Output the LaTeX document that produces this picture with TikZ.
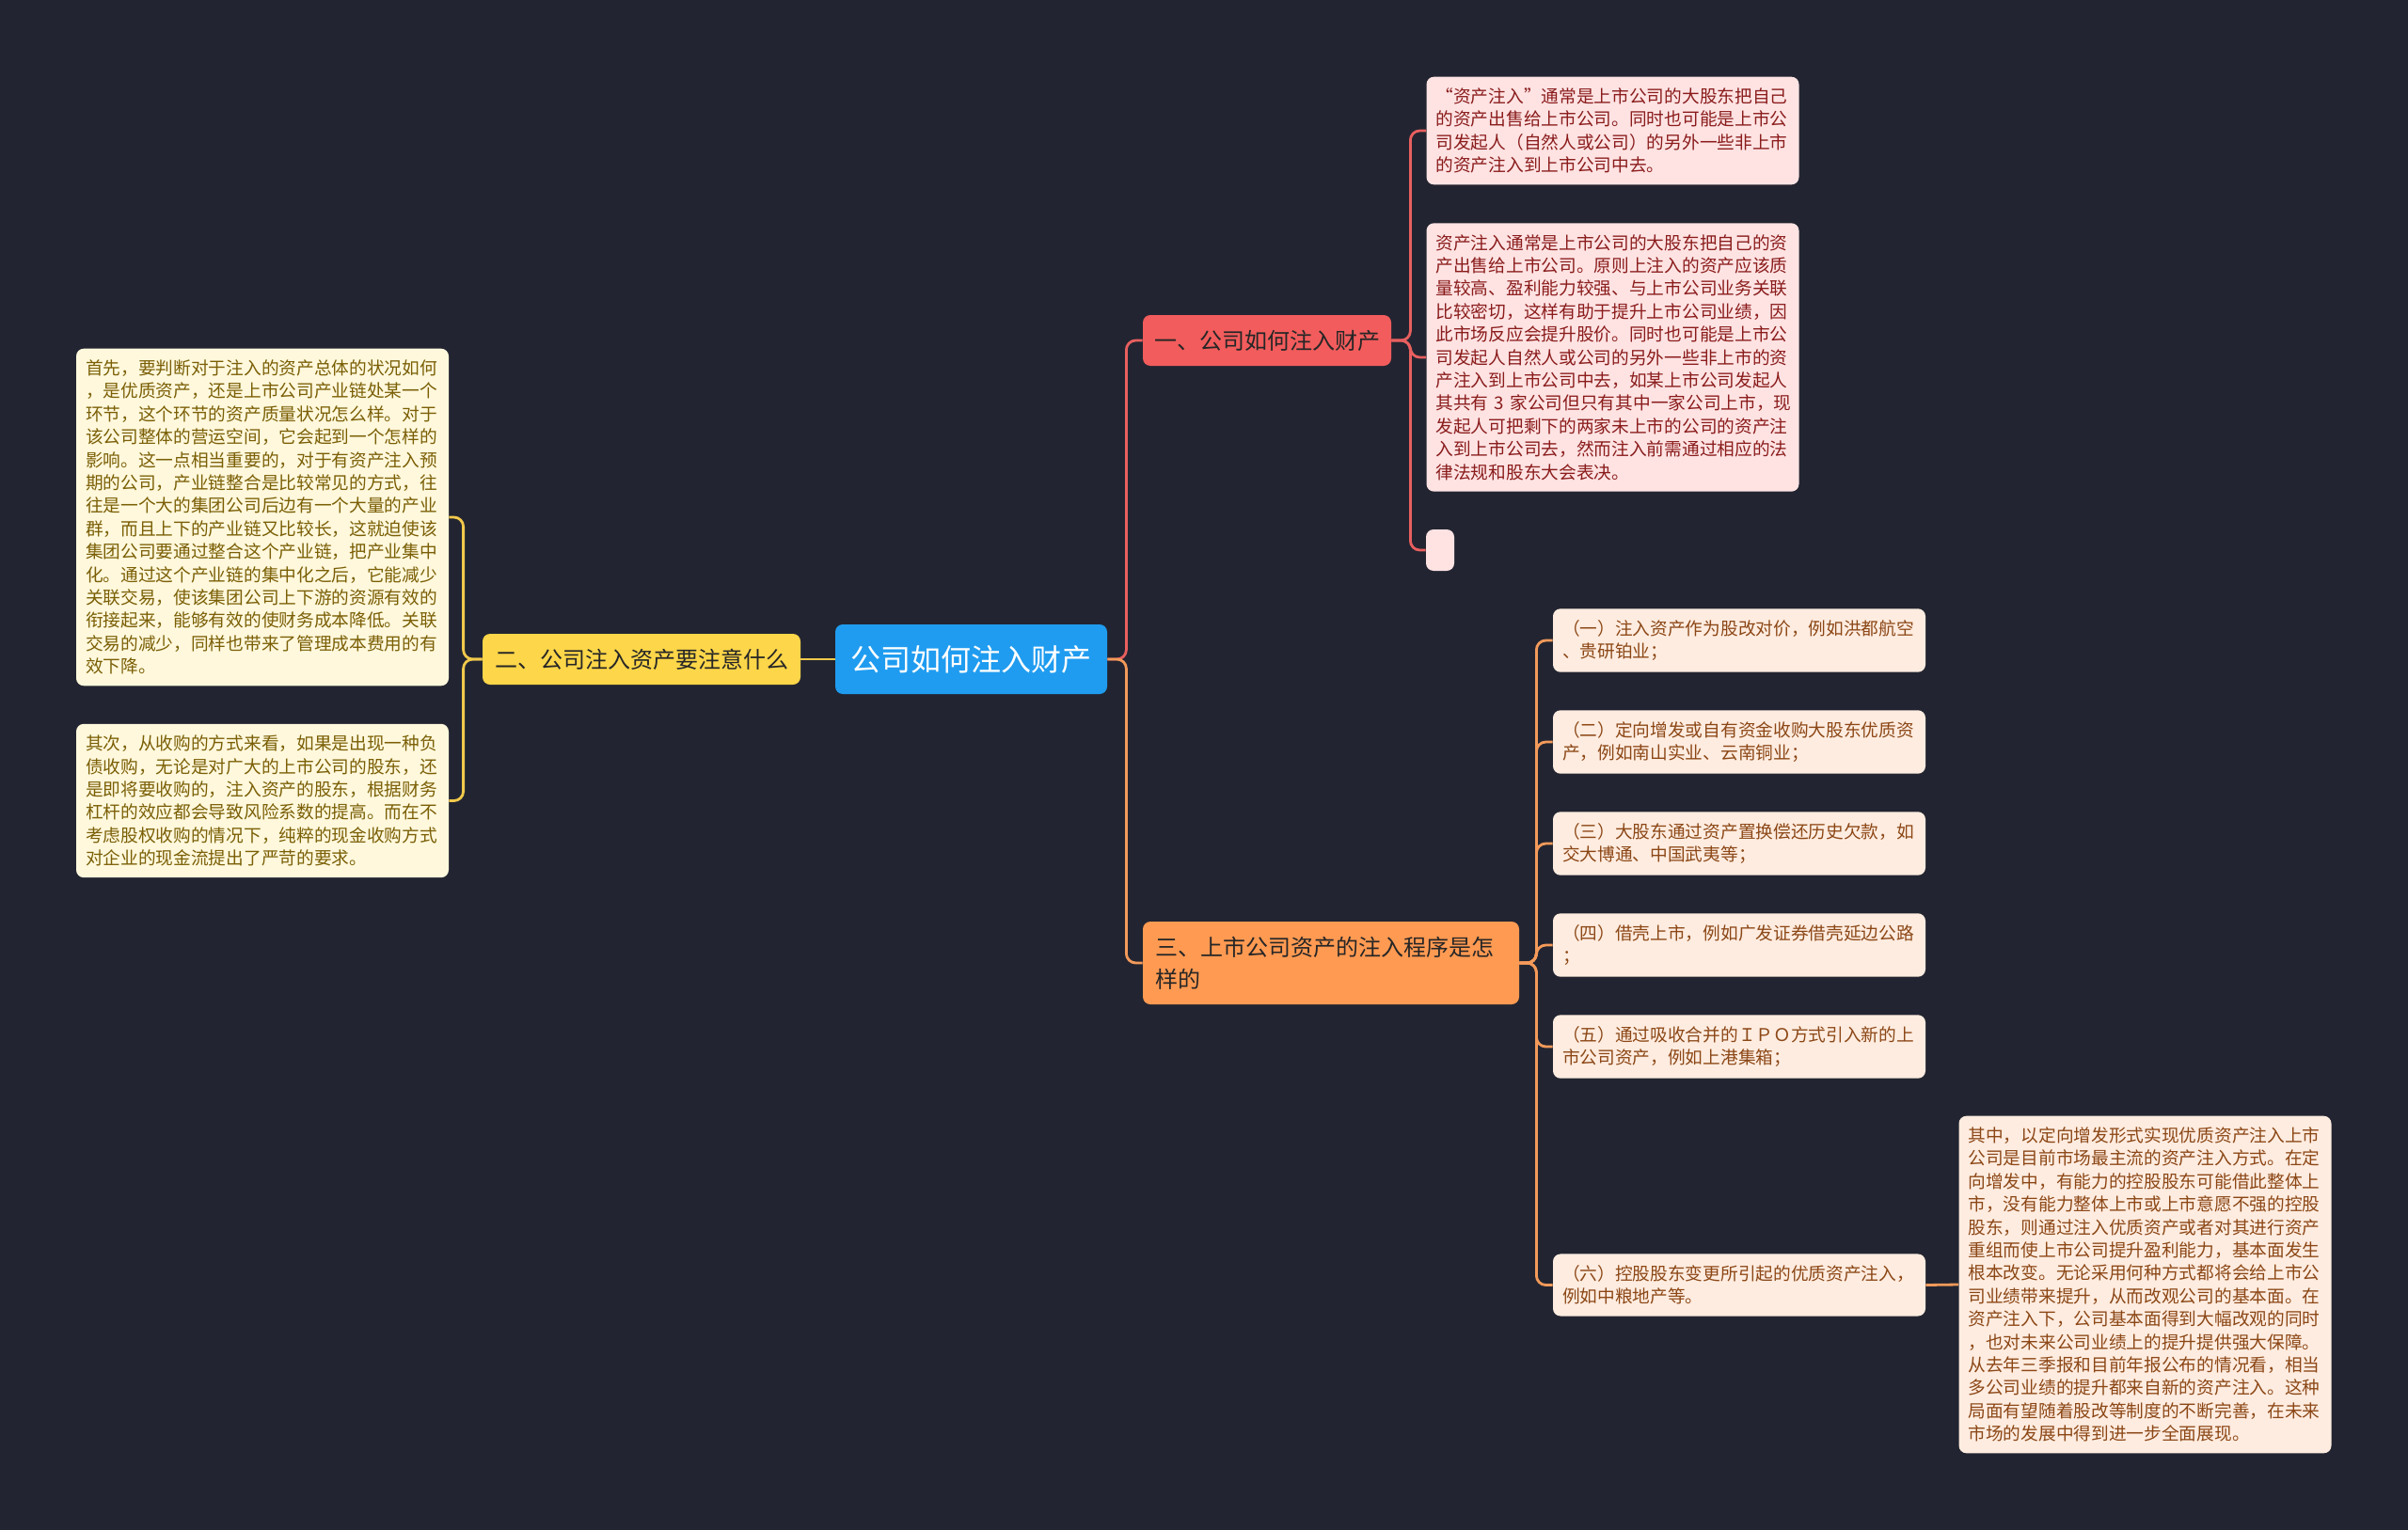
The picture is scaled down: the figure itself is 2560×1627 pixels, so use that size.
\documentclass[tikz,border=0pt]{standalone}
\usepackage{fontspec}
\newfontfamily\cjk{Noto Sans CJK SC}
\definecolor{bgcol}{HTML}{222531}
\definecolor{rootblue}{HTML}{1F9CF0}
\definecolor{topicred}{HTML}{F25C5C}
\definecolor{topicyellow}{HTML}{FDD649}
\definecolor{topicorange}{HTML}{FF9A52}
\definecolor{pinkfill}{HTML}{FFE3E3}
\definecolor{pinktext}{HTML}{8A1C1C}
\definecolor{creamfill}{HTML}{FFF8DC}
\definecolor{creamtext}{HTML}{7A5F06}
\definecolor{peachfill}{HTML}{FFECE0}
\definecolor{peachtext}{HTML}{8B4716}
\definecolor{redline}{HTML}{E85F5F}
\definecolor{yellowline}{HTML}{F2C94C}
\definecolor{orangeline}{HTML}{F49A5A}

\begin{document}
\begin{tikzpicture}[x=0.5pt, y=-0.5pt,
  topic/.style={rounded corners=4pt, inner sep=0pt, font=\cjk\fontsize{12}{17}\selectfont, text=black!85},
  leaf/.style={rounded corners=4pt, inner xsep=5pt, inner ysep=6pt, text width=188pt, align=left,
    font=\cjk\fontsize{9.35}{12.2}\selectfont},
  pinkleaf/.style={leaf, fill=pinkfill, text=pinktext},
  creamleaf/.style={leaf, fill=creamfill, text=creamtext},
  peachleaf/.style={leaf, fill=peachfill, text=peachtext},
  link/.style={line width=1.4pt, rounded corners=5pt}]

\fill[bgcol] (0,0) rectangle (2560,1627);

\node[rounded corners=4pt, fill=rootblue, text=white, minimum width=144.5pt, minimum height=37pt,
  font=\cjk\fontsize{16}{19}\selectfont] (root) at (1032.5,701) {公司如何注入财产};
\node[topic, fill=topicred, minimum width=132pt, minimum height=27pt] (n1) at (1347,362) {一、公司如何注入财产};
\node[topic, fill=topicyellow, minimum width=169pt, minimum height=27pt] (n2) at (682,701) {二、公司注入资产要注意什么};
\node[topic, fill=topicorange, inner xsep=6.5pt, text width=187pt, align=left, minimum height=44pt] (n3) at (1415,1024)
  {三、上市公司资产的注入程序是怎\\样的};

\node[pinkleaf] (p1) at (1714.5,139) {“资产注入”通常是上市公司的大股东把自己\\的资产出售给上市公司。同时也可能是上市公\\司发起人（自然人或公司）的另外一些非上市\\的资产注入到上市公司中去。};
\node[pinkleaf] (p2) at (1714.5,380) {资产注入通常是上市公司的大股东把自己的资\\产出售给上市公司。原则上注入的资产应该质\\量较高、盈利能力较强、与上市公司业务关联\\比较密切，这样有助于提升上市公司业绩，因\\此市场反应会提升股价。同时也可能是上市公\\司发起人自然人或公司的另外一些非上市的资\\产注入到上市公司中去，如某上市公司发起人\\\mbox{其共有 3 家公司但只有其中一家公司上市，现}\\发起人可把剩下的两家未上市的公司的资产注\\入到上市公司去，然而注入前需通过相应的法\\律法规和股东大会表决。};
\node[rounded corners=4pt, fill=pinkfill, inner sep=0pt, minimum width=15pt, minimum height=22pt] (p3) at (1531,585) {};

\node[creamleaf] (y1) at (279,550) {首先，要判断对于注入的资产总体的状况如何\\，是优质资产，还是上市公司产业链处某一个\\环节，这个环节的资产质量状况怎么样。对于\\该公司整体的营运空间，它会起到一个怎样的\\影响。这一点相当重要的，对于有资产注入预\\期的公司，产业链整合是比较常见的方式，往\\往是一个大的集团公司后边有一个大量的产业\\群，而且上下的产业链又比较长，这就迫使该\\集团公司要通过整合这个产业链，把产业集中\\化。通过这个产业链的集中化之后，它能减少\\关联交易，使该集团公司上下游的资源有效的\\衔接起来，能够有效的使财务成本降低。关联\\交易的减少，同样也带来了管理成本费用的有\\效下降。};
\node[creamleaf] (y2) at (279,851.5) {其次，从收购的方式来看，如果是出现一种负\\债收购，无论是对广大的上市公司的股东，还\\是即将要收购的，注入资产的股东，根据财务\\杠杆的效应都会导致风险系数的提高。而在不\\考虑股权收购的情况下，纯粹的现金收购方式\\对企业的现金流提出了严苛的要求。};

\node[peachleaf] (o1) at (1849,681) {（一）注入资产作为股改对价，例如洪都航空\\、贵研铂业；};
\node[peachleaf] (o2) at (1849,789) {（二）定向增发或自有资金收购大股东优质资\\产，例如南山实业、云南铜业；};
\node[peachleaf] (o3) at (1849,897) {（三）大股东通过资产置换偿还历史欠款，如\\交大博通、中国武夷等；};
\node[peachleaf] (o4) at (1849,1005) {（四）借壳上市，例如广发证券借壳延边公路\\；};
\node[peachleaf] (o5) at (1849,1113) {（五）通过吸收合并的ＩＰＯ方式引入新的上\\市公司资产，例如上港集箱；};
\node[peachleaf] (o6) at (1849,1366.5) {（六）控股股东变更所引起的优质资产注入，\\例如中粮地产等。};
\node[peachleaf] (b) at (2280.5,1366) {其中，以定向增发形式实现优质资产注入上市\\公司是目前市场最主流的资产注入方式。在定\\向增发中，有能力的控股股东可能借此整体上\\市，没有能力整体上市或上市意愿不强的控股\\股东，则通过注入优质资产或者对其进行资产\\重组而使上市公司提升盈利能力，基本面发生\\根本改变。无论采用何种方式都将会给上市公\\司业绩带来提升，从而改观公司的基本面。在\\资产注入下，公司基本面得到大幅改观的同时\\，也对未来公司业绩上的提升提供强大保障。\\从去年三季报和目前年报公布的情况看，相当\\多公司业绩的提升都来自新的资产注入。这种\\局面有望随着股改等制度的不断完善，在未来\\市场的发展中得到进一步全面展现。};

\draw[link, redline] (root.east) -- ++(20,0) |- (n1.west);
\draw[link, orangeline] (root.east) -- ++(20,0) |- (n3.west);
\draw[link, yellowline] (root.west) -- (n2.east);
\foreach \y in {y1,y2}
  \draw[link, yellowline] (n2.west) -- ++(-20,0) |- (\y.east);
\foreach \p in {p1,p2,p3}
  \draw[link, redline] (n1.east) -- ++(20,0) |- (\p.west);
\foreach \i in {1,...,6}
  \draw[link, orangeline] (n3.east) -- ++(18,0) |- (o\i.west);
\draw[link, orangeline] (o6.east) -- (b.west);
\end{tikzpicture}
\end{document}
